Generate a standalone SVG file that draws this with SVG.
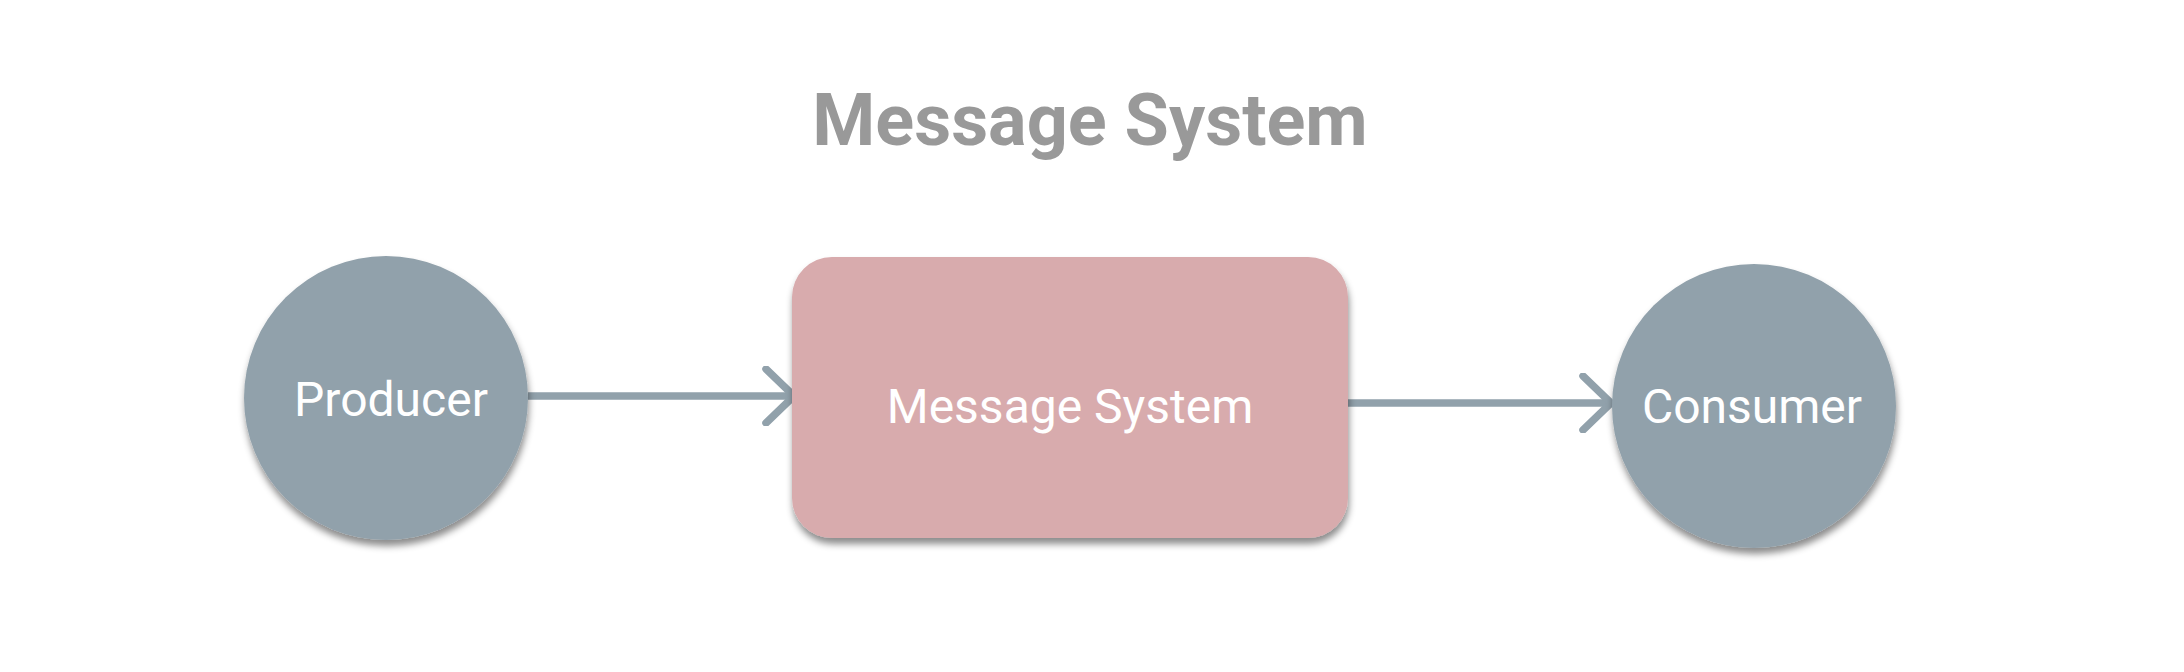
<svg xmlns="http://www.w3.org/2000/svg" width="2184" height="672" viewBox="0 0 2184 672">
  <defs>
    <filter id="shadow" x="-20%" y="-20%" width="140%" height="150%">
      <feDropShadow dx="1" dy="6" stdDeviation="3.5" flood-color="#000000" flood-opacity="0.45"/>
    </filter>
    <marker id="chev" viewBox="0 0 40 60" refX="36" refY="30" markerWidth="40" markerHeight="60" markerUnits="userSpaceOnUse" orient="auto">
      <path d="M8 3 L36 30 L8 57" fill="none" stroke="#91a1ab" stroke-width="7.5" stroke-linecap="round" stroke-linejoin="round"/>
    </marker>
  </defs>
  <style>
    .title { font-family: Roboto, "Liberation Sans", sans-serif; font-weight: 700; font-size: 72px; fill: #999999; }
    .label { font-family: Roboto, "Liberation Sans", sans-serif; font-weight: 400; font-size: 48px; fill: #ffffff; }
    .circ { fill: #91a1ab; filter: url(#shadow); }
    .box { fill: #d8abad; filter: url(#shadow); }
    .conn { fill: none; stroke: #91a1ab; stroke-width: 7.5; }
  </style>
  <rect width="2184" height="672" fill="#ffffff"/>
  <text class="title" x="1090" y="145" text-anchor="middle">Message System</text>
  <g id="connectors">
    <line class="conn" x1="528" y1="396" x2="794" y2="396" marker-end="url(#chev)"/>
    <line class="conn" x1="1348" y1="403" x2="1611" y2="403" marker-end="url(#chev)"/>
  </g>
  <g id="producer">
    <circle class="circ" cx="386" cy="398" r="142"/>
    <text class="label" x="391" y="416" text-anchor="middle">Producer</text>
  </g>
  <g id="message-system">
    <rect class="box" x="792" y="257" width="556" height="281" rx="40" ry="40"/>
    <text class="label" x="1070" y="423" text-anchor="middle">Message System</text>
  </g>
  <g id="consumer">
    <circle class="circ" cx="1754" cy="406" r="142"/>
    <text class="label" x="1752" y="423" text-anchor="middle">Consumer</text>
  </g>
</svg>
